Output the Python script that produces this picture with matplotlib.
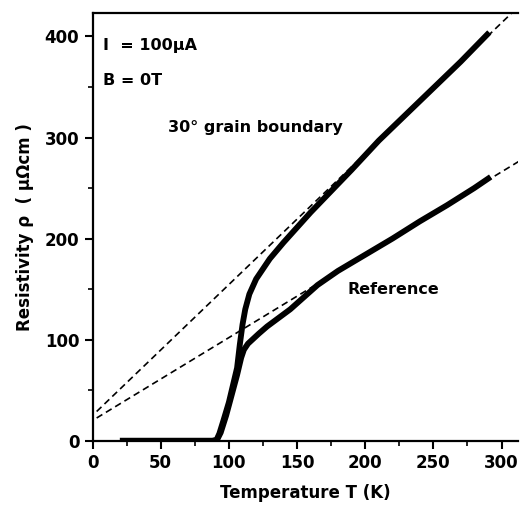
import matplotlib.pyplot as plt
import numpy as np
from matplotlib.ticker import MultipleLocator

plt.rcParams['font.family'] = ['DejaVu Sans']
plt.rcParams['font.weight'] = 'bold'
plt.rcParams['axes.labelweight'] = 'bold'

# 30 degree grain boundary curve
gb_T = [20, 40, 60, 80, 88, 91, 93, 96, 100, 103, 106, 108, 110, 112, 115, 120,
        125, 130, 140, 150, 160, 175, 190, 210, 230, 250, 270, 291]
gb_rho = [0, 0, 0, 0, 0, 1, 7, 20, 38, 55, 72, 95, 115, 130, 145, 160,
          170, 180, 196, 211, 226, 247, 268, 297, 323, 349, 375, 404]

# reference film curve
ref_T = [91, 94, 98, 102, 106, 109, 111, 114, 118, 122, 128, 135, 145, 155,
         165, 180, 200, 220, 240, 260, 280, 292]
ref_rho = [0, 8, 25, 45, 65, 82, 90, 96, 101, 106, 113, 120, 130, 142,
           154, 168, 184, 200, 217, 233, 250, 261]

# linear fits (intercept, slope)
fit_gb = (25.0, 1.295)
fit_ref = (20.0, 0.82)

fig = plt.figure(figsize=(5.2, 5.08), dpi=100)
ax = fig.add_axes([0.178, 0.1325, 0.818, 0.8415])

tt = np.array([3.0, 330.0])
for a, b in (fit_gb, fit_ref):
    ax.plot(tt, a + b * tt, color='black', linestyle=(0, (4, 2.5)), linewidth=1.2)

ax.plot(gb_T, gb_rho, color='black', linewidth=4.2, solid_capstyle='butt')
ax.plot(ref_T, ref_rho, color='black', linewidth=4.2, solid_capstyle='butt')

ax.set_xlim(0, 312)
ax.set_ylim(0, 423)
ax.xaxis.set_major_locator(MultipleLocator(50))
ax.xaxis.set_minor_locator(MultipleLocator(25))
ax.yaxis.set_major_locator(MultipleLocator(100))
ax.yaxis.set_minor_locator(MultipleLocator(50))
ax.tick_params(which='major', direction='out', length=6, width=1.5, labelsize=12)
ax.tick_params(which='minor', direction='out', length=3.5, width=1.2)
ax.spines['right'].set_visible(False)
for s in ('left', 'bottom', 'top'):
    ax.spines[s].set_linewidth(1.6)

ax.set_xlabel('Temperature T (K)', fontsize=12, labelpad=9)
ax.set_ylabel('Resistivity ρ  ( μΩcm )', fontsize=12, labelpad=8)

ax.text(0.025, 0.925, 'I  = 100μA', transform=ax.transAxes, fontsize=11.5, va='center')
ax.text(0.025, 0.843, 'B = 0T', transform=ax.transAxes, fontsize=11.5, va='center')
ax.text(55, 310, '30° grain boundary', fontsize=11.5, va='center')
ax.text(187, 150, 'Reference', fontsize=11.5, va='center')

fig.savefig('out.png', dpi=100)
